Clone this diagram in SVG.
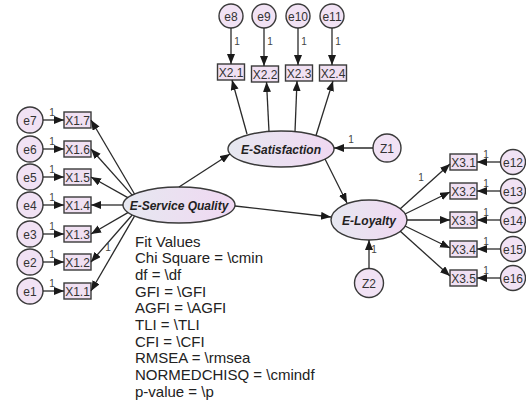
<svg xmlns="http://www.w3.org/2000/svg" width="526" height="412" viewBox="0 0 526 412">
<defs>
<linearGradient id="lat" x1="0" y1="0" x2="1" y2="0">
<stop offset="0" stop-color="#e6e8f0"/>
<stop offset="1" stop-color="#f0d8f2"/>
</linearGradient>
<marker id="ah" markerUnits="userSpaceOnUse" markerWidth="12" markerHeight="10" refX="10" refY="4" orient="auto">
<path d="M0,0 L10,4 L0,8 Z" fill="#1a1a1a"/>
</marker>
<style>
.c{fill:#f1e2f4;stroke:#3a3a3a;stroke-width:1.4}
.b{fill:#f0e0f2;stroke:#3a3a3a;stroke-width:1.4}
.l{fill:url(#lat);stroke:#3a3a3a;stroke-width:1.4}
.t{font-family:"Liberation Sans",Arial,sans-serif;font-size:12px;fill:#333;text-anchor:middle}
.lt{font-family:"Liberation Sans",Arial,sans-serif;font-size:12px;font-weight:bold;font-style:italic;fill:#222;text-anchor:middle}
.one{font-family:"Liberation Sans",Arial,sans-serif;font-size:10px;fill:#444;text-anchor:middle}
.fit{font-family:"Liberation Sans",Arial,sans-serif;font-size:15px;fill:#222}
.p{stroke:#2a2a2a;stroke-width:1.3;fill:none;marker-end:url(#ah)}
</style>
</defs>
<rect width="526" height="412" fill="#ffffff"/>

<!-- latent variables -->
<g id="E-Service-Quality"><ellipse class="l" cx="179" cy="205" rx="56" ry="18"/><text class="lt" x="179" y="209.5">E-Service Quality</text></g>
<g id="E-Satisfaction"><ellipse class="l" cx="281" cy="149" rx="53" ry="18"/><text class="lt" x="281" y="153.5">E-Satisfaction</text></g>
<g id="E-Loyalty"><ellipse class="l" cx="369" cy="220" rx="38" ry="20"/><text class="lt" x="369" y="224.5">E-Loyalty</text></g>
<g id="Z1"><circle class="c" cx="387" cy="148" r="14"/><text class="t" x="387" y="152.5">Z1</text></g>
<g id="Z2"><circle class="c" cx="369" cy="283" r="14.5"/><text class="t" x="369" y="287.5">Z2</text></g>

<!-- left indicators -->
<g id="e7"><circle class="c" cx="30" cy="120" r="13"/><text class="t" x="30" y="124.5">e7</text></g>
<g id="e6"><circle class="c" cx="30" cy="149" r="13"/><text class="t" x="30" y="153.5">e6</text></g>
<g id="e5"><circle class="c" cx="30" cy="177" r="13"/><text class="t" x="30" y="181.5">e5</text></g>
<g id="e4"><circle class="c" cx="30" cy="205" r="13"/><text class="t" x="30" y="209.5">e4</text></g>
<g id="e3"><circle class="c" cx="30" cy="234" r="13"/><text class="t" x="30" y="238.5">e3</text></g>
<g id="e2"><circle class="c" cx="30" cy="262" r="13"/><text class="t" x="30" y="266.5">e2</text></g>
<g id="e1"><circle class="c" cx="30" cy="291" r="13"/><text class="t" x="30" y="295.5">e1</text></g>
<g id="X1.7"><rect class="b" x="64" y="112" width="27" height="16"/><text class="t" x="77.5" y="124.5">X1.7</text></g>
<g id="X1.6"><rect class="b" x="64" y="141" width="27" height="16"/><text class="t" x="77.5" y="153.5">X1.6</text></g>
<g id="X1.5"><rect class="b" x="64" y="169" width="27" height="16"/><text class="t" x="77.5" y="181.5">X1.5</text></g>
<g id="X1.4"><rect class="b" x="64" y="197" width="27" height="16"/><text class="t" x="77.5" y="209.5">X1.4</text></g>
<g id="X1.3"><rect class="b" x="64" y="226" width="27" height="16"/><text class="t" x="77.5" y="238.5">X1.3</text></g>
<g id="X1.2"><rect class="b" x="64" y="254" width="27" height="16"/><text class="t" x="77.5" y="266.5">X1.2</text></g>
<g id="X1.1"><rect class="b" x="64" y="283" width="27" height="16"/><text class="t" x="77.5" y="295.5">X1.1</text></g>

<!-- top indicators -->
<g id="e8"><circle class="c" cx="231" cy="16" r="12"/><text class="t" x="231" y="20.5">e8</text></g>
<g id="e9"><circle class="c" cx="264" cy="16" r="12"/><text class="t" x="264" y="20.5">e9</text></g>
<g id="e10"><circle class="c" cx="298" cy="16" r="12"/><text class="t" x="298" y="20.5">e10</text></g>
<g id="e11"><circle class="c" cx="332" cy="16" r="12"/><text class="t" x="332" y="20.5">e11</text></g>
<g id="X2.1"><rect class="b" x="217.5" y="64" width="27" height="16"/><text class="t" x="231" y="76.5">X2.1</text></g>
<g id="X2.2"><rect class="b" x="251.5" y="66" width="27" height="16"/><text class="t" x="265" y="78.5">X2.2</text></g>
<g id="X2.3"><rect class="b" x="285.5" y="65" width="27" height="16"/><text class="t" x="299" y="77.5">X2.3</text></g>
<g id="X2.4"><rect class="b" x="319.5" y="65" width="27" height="16"/><text class="t" x="333" y="77.5">X2.4</text></g>

<!-- right indicators -->
<g id="X3.1"><rect class="b" x="450" y="154" width="27" height="16"/><text class="t" x="463.5" y="166.5">X3.1</text></g>
<g id="X3.2"><rect class="b" x="450" y="183" width="27" height="16"/><text class="t" x="463.5" y="195.5">X3.2</text></g>
<g id="X3.3"><rect class="b" x="450" y="212" width="27" height="16"/><text class="t" x="463.5" y="224.5">X3.3</text></g>
<g id="X3.4"><rect class="b" x="450" y="241" width="27" height="16"/><text class="t" x="463.5" y="253.5">X3.4</text></g>
<g id="X3.5"><rect class="b" x="450" y="270" width="27" height="16"/><text class="t" x="463.5" y="282.5">X3.5</text></g>
<g id="e12"><circle class="c" cx="513" cy="162" r="12.5"/><text class="t" x="513" y="166.5">e12</text></g>
<g id="e13"><circle class="c" cx="513" cy="191" r="12.5"/><text class="t" x="513" y="195.5">e13</text></g>
<g id="e14"><circle class="c" cx="513" cy="220" r="12.5"/><text class="t" x="513" y="224.5">e14</text></g>
<g id="e15"><circle class="c" cx="513" cy="249" r="12.5"/><text class="t" x="513" y="253.5">e15</text></g>
<g id="e16"><circle class="c" cx="513" cy="278" r="12.5"/><text class="t" x="513" y="282.5">e16</text></g>

<!-- connectors -->
<g id="connectors">
<path class="p" d="M43,120 L64,120"/>
<path class="p" d="M43,149 L64,149"/>
<path class="p" d="M43,177 L64,177"/>
<path class="p" d="M43,205 L64,205"/>
<path class="p" d="M43,234 L64,234"/>
<path class="p" d="M43,262 L64,262"/>
<path class="p" d="M43,291 L64,291"/>
<path class="p" d="M134.5,194 L91,120"/>
<path class="p" d="M132.2,195.1 L91,149"/>
<path class="p" d="M127.8,197.6 L91,177"/>
<path class="p" d="M123,205 L91,205"/>
<path class="p" d="M127.9,212.6 L91,234"/>
<path class="p" d="M132.2,215 L91,262"/>
<path class="p" d="M134.5,216.1 L91,291"/>
<path class="p" d="M231,28 L231,64"/>
<path class="p" d="M264,28 L264,66"/>
<path class="p" d="M298,28 L298,65"/>
<path class="p" d="M332,28 L332,65"/>
<path class="p" d="M247,134 L232,80"/>
<path class="p" d="M269,131.5 L266.5,82"/>
<path class="p" d="M295,131.6 L297,81"/>
<path class="p" d="M316,135.5 L333,81"/>
<path class="p" d="M373,148 L334,148"/>
<path class="p" d="M179,187 L230,154"/>
<path class="p" d="M235,206 L331,217"/>
<path class="p" d="M325,159 L347,203"/>
<path class="p" d="M369,268.5 L369,240"/>
<path class="p" d="M400,209 L450,164"/>
<path class="p" d="M405,214 L450,192"/>
<path class="p" d="M407,220 L450,220"/>
<path class="p" d="M405,226 L450,248"/>
<path class="p" d="M400,231 L450,276"/>
<path class="p" d="M500.5,162 L477,162"/>
<path class="p" d="M500.5,191 L477,191"/>
<path class="p" d="M500.5,220 L477,220"/>
<path class="p" d="M500.5,249 L477,249"/>
<path class="p" d="M500.5,278 L477,278"/>
<g id="path-labels">
<text class="one" x="52" y="115.5">1</text>
<text class="one" x="52" y="144.5">1</text>
<text class="one" x="52" y="172.5">1</text>
<text class="one" x="52" y="200.5">1</text>
<text class="one" x="52" y="229.5">1</text>
<text class="one" x="52" y="257.5">1</text>
<text class="one" x="52" y="286.5">1</text>
<text class="one" x="108" y="251">1</text>
<text class="one" x="237" y="45">1</text>
<text class="one" x="270" y="45">1</text>
<text class="one" x="304" y="45">1</text>
<text class="one" x="338" y="45">1</text>
<text class="one" x="351" y="143">1</text>
<text class="one" x="374" y="253">1</text>
<text class="one" x="421" y="181">1</text>
<text class="one" x="486" y="157.5">1</text>
<text class="one" x="486" y="186.5">1</text>
<text class="one" x="486" y="215.5">1</text>
<text class="one" x="486" y="244.5">1</text>
<text class="one" x="486" y="273.5">1</text>
</g>
</g>

<!-- fit values -->
<g id="fit-values">
<text class="fit" x="135" y="246.7">Fit Values</text>
<text class="fit" x="135" y="263.3">Chi Square = \cmin</text>
<text class="fit" x="135" y="280">df = \df</text>
<text class="fit" x="135" y="296.7">GFI = \GFI</text>
<text class="fit" x="135" y="313.3">AGFI = \AGFI</text>
<text class="fit" x="135" y="330">TLI = \TLI</text>
<text class="fit" x="135" y="346.7">CFI = \CFI</text>
<text class="fit" x="135" y="363.3">RMSEA = \rmsea</text>
<text class="fit" x="135" y="380">NORMEDCHISQ = \cmindf</text>
<text class="fit" x="135" y="396.7">p-value = \p</text>
</g>
</svg>
